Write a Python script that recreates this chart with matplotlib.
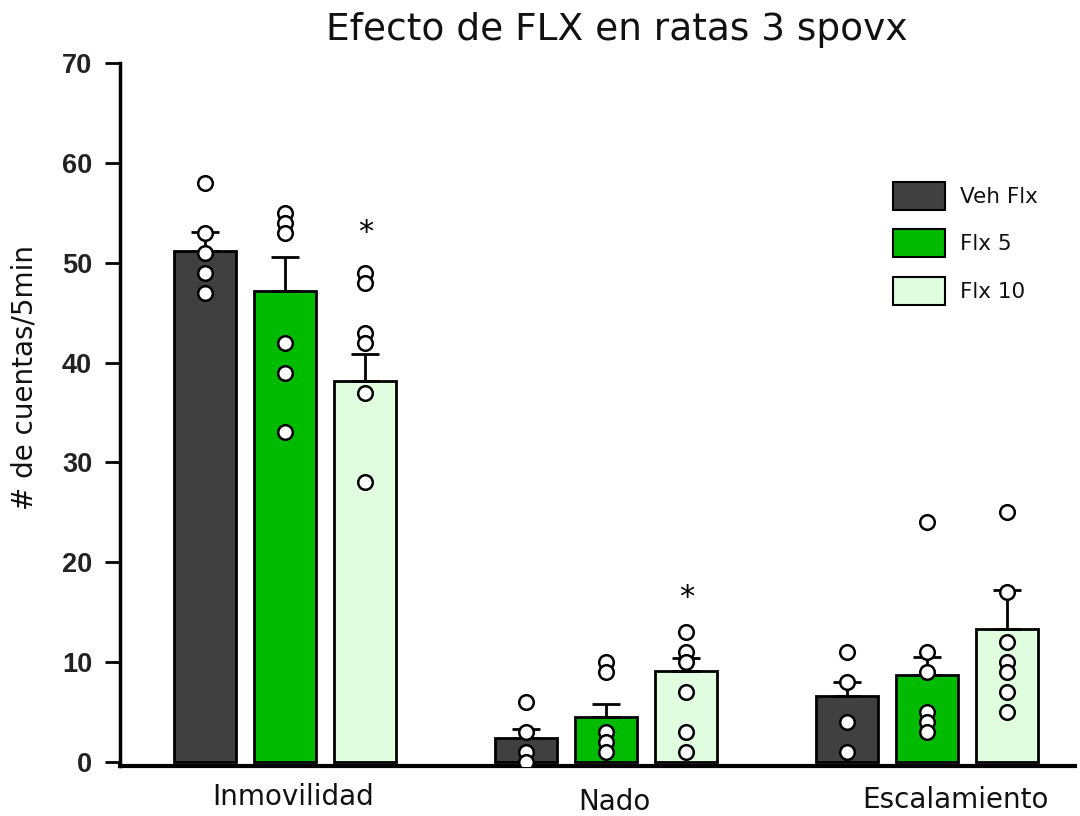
import matplotlib
matplotlib.use("Agg")
import matplotlib.pyplot as plt
from matplotlib.patches import Patch
import numpy as np

categories = ["Inmovilidad", "Nado", "Escalamiento"]
groups = ["Veh Flx", "Flx 5", "Flx 10"]
colors = ["#404040", "#00bb00", "#e0fde0"]

means = {
    "Veh Flx": [51.2, 2.4, 6.6],
    "Flx 5": [47.2, 4.5, 8.7],
    "Flx 10": [38.2, 9.1, 13.3],
}
sems = {
    "Veh Flx": [1.9, 0.9, 1.4],
    "Flx 5": [3.4, 1.3, 1.8],
    "Flx 10": [2.7, 1.3, 3.9],
}
points = {
    "Veh Flx": [[58, 53, 51, 49, 47], [6, 3, 1, 0], [11, 8, 4, 1]],
    "Flx 5": [[55, 54, 53, 42, 39, 33], [10, 9, 3, 2, 1], [24, 11, 9, 5, 4, 3]],
    "Flx 10": [[49, 48, 43, 42, 37, 28], [13, 11, 10, 7, 3, 1], [25, 17, 12, 10, 9, 7, 5]],
}
stars = {"Flx 10": [53, 16.5, None]}

title = "Efecto de FLX en ratas 3 spovx"
ylabel = "# de cuentas/5min"
yticks = [0, 10, 20, 30, 40, 50, 60, 70]

font = ["DejaVu Sans"]

fig = plt.figure(figsize=(10.8, 8.16), dpi=100)
ax = fig.add_axes([120/1080, 1-766/816, (1075-120)/1080, (766-63)/816])

x = np.arange(len(categories))
offsets = [-0.25, 0.0, 0.25]
width = 0.193

for g, off, c in zip(groups, offsets, colors):
    xs = x + off
    ax.bar(xs, means[g], width=width, color=c, edgecolor="black", linewidth=2, zorder=2)
    ax.errorbar(xs, means[g], yerr=[np.zeros(len(xs)), sems[g]], fmt="none",
                ecolor="black", elinewidth=2, capsize=10, capthick=2, zorder=3)
    for xi, pts in zip(xs, points[g]):
        ax.plot([xi]*len(pts), pts, "o", markersize=10.5, markerfacecolor="white",
                markeredgecolor="black", markeredgewidth=1.8, linestyle="none", zorder=4)
    if g in stars:
        for xi, s in zip(xs, stars[g]):
            if s is not None:
                ax.text(xi, s, "*", ha="center", va="center", fontsize=22,
                        family="DejaVu Sans", zorder=5)

ax.set_xlim(-0.514, 2.461)
ax.set_ylim(-0.4, 70)
ax.set_yticks(yticks)
ax.set_yticklabels([str(t) for t in yticks], fontsize=19.5, fontweight="bold",
                   family="Liberation Sans", color="#222222")
ax.tick_params(axis="y", direction="out", length=11, width=2, pad=9)
ax.tick_params(axis="x", length=0, bottom=False, labelbottom=False)
for s in ["top", "right"]:
    ax.spines[s].set_visible(False)
ax.spines["left"].set_linewidth(2.5)
ax.spines["bottom"].set_linewidth(3)

label_pos = {"Inmovilidad": (293, 797), "Nado": (614, 802), "Escalamiento": (955, 800)}
for cat in categories:
    px, py = label_pos[cat]
    fig.text(px/1080, 1 - py/816, cat, ha="center", va="center", fontsize=20,
             family=font, color="#111111")

fig.text(617/1080, 1-30/816, title, ha="center", va="center", fontsize=27,
         family=font, color="#111111")
fig.text(25/1080, 1-377/816, ylabel, ha="center", va="center", rotation=90,
         fontsize=20, family=font, color="#111111")

handles = [Patch(facecolor=c, edgecolor="black", linewidth=1.5) for c in colors]
leg = ax.legend(handles, groups, loc="upper left", bbox_to_anchor=(893/1080, 1-182/816),
                bbox_transform=fig.transFigure, frameon=False,
                handlelength=2.4, handleheight=1.62, labelspacing=0.9,
                handletextpad=0.7, borderpad=0, borderaxespad=0,
                prop={"family": font, "size": 15.5})
for t in leg.get_texts():
    t.set_color("#111111")

fig.savefig("out.png", dpi=100)
